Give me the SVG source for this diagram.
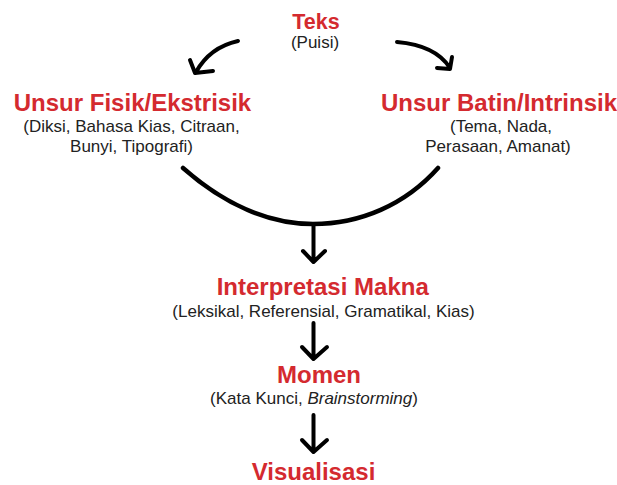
<svg xmlns="http://www.w3.org/2000/svg" width="617" height="485" viewBox="0 0 617 485">
<style>
.t{font-family:"Liberation Sans",Arial,sans-serif;font-weight:bold;font-size:24px;fill:#d42a2f;text-anchor:middle}
.s{font-family:"Liberation Sans",Arial,sans-serif;font-size:17px;fill:#222;text-anchor:middle}
.c{fill:none;stroke:#000;stroke-width:4;stroke-linecap:round;stroke-linejoin:round}
</style>
<rect width="617" height="485" fill="#fff"/>
<g id="teks">
<text class="t" x="316" y="29" style="font-size:21.5px">Teks</text>
<text class="s" x="315" y="48">(Puisi)</text>
</g>
<g id="fisik">
<text class="t" x="132.5" y="111">Unsur Fisik/Ekstrisik</text>
<text class="s" x="131.5" y="132">(Diksi, Bahasa Kias, Citraan,</text>
<text class="s" x="131.5" y="152">Bunyi, Tipografi)</text>
</g>
<g id="batin">
<text class="t" x="499" y="111">Unsur Batin/Intrinsik</text>
<text class="s" x="501" y="132">(Tema, Nada,</text>
<text class="s" x="498" y="152">Perasaan, Amanat)</text>
</g>
<g id="interpretasi">
<text class="t" x="322.7" y="295">Interpretasi Makna</text>
<text class="s" x="323.5" y="317">(Leksikal, Referensial, Gramatikal, Kias)</text>
</g>
<g id="momen">
<text class="t" x="319" y="383">Momen</text>
<text class="s" x="314" y="404">(Kata Kunci, <tspan font-style="italic">Brainstorming</tspan>)</text>
</g>
<g id="visualisasi">
<text class="t" x="313.5" y="480">Visualisasi</text>
</g>
<g id="connectors">
<path class="c" d="M238,41 C220,45 205,56 196,72 M190,60 L195,73 L213,71"/>
<path class="c" d="M397,42 C420,44 440,52 450,68 M452,57 L450,69 L437,68"/>
<path class="c" d="M183,168 C225,205 270,224 313,224 C360,224 405,205 438,168" style="stroke-width:4.5"/>
<path class="c" d="M313.5,224 L313.5,261 M303,251 L313.5,262 L325,251"/>
<path class="c" d="M313.5,323 L313.5,358 M302,347 L313.5,359 L327,347"/>
<path class="c" d="M313.5,415 L313.5,451 M302,440 L313.5,452 L327,440"/>
</g>
</svg>
